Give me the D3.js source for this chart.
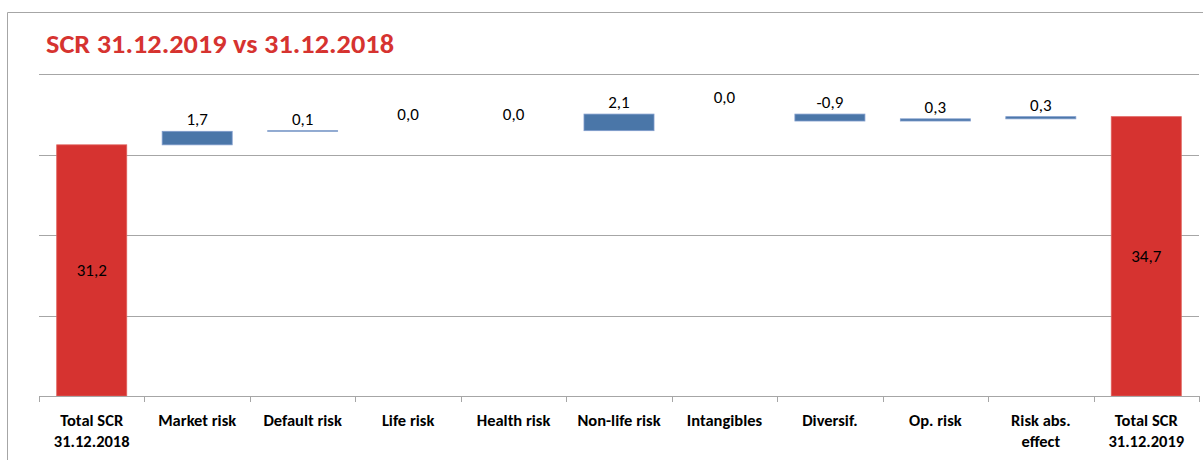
<!DOCTYPE html>
<meta charset="utf-8">
<head>
  <script src="https://d3js.org/d3.v7.min.js"></script>
  <style>
    body { margin: 0; background: #fff; font-family: Carlito, Lato, 'Liberation Sans', sans-serif; }
  </style>
</head>
<div id="my_dataviz"></div>
<script>
  // data
  var categories = ["Total SCR|31.12.2018", "Market risk", "Default risk", "Life risk", "Health risk",
    "Non-life risk", "Intangibles", "Diversif.", "Op. risk", "Risk abs.|effect", "Total SCR|31.12.2019"];
  var values = [31.2, 1.68, 0.08, 0, 0, 2.06, 0, -0.86, 0.27, 0.27, 34.7];
  var isTotal = [true, false, false, false, false, false, false, false, false, false, true];
  var valueLabels = ["31,2", "1,7", "0,1", "0,0", "0,0", "2,1", "0,0", "-0,9", "0,3", "0,3", "34,7"];
  var yTicks = [0, 10, 20, 30, 40];

  var W = 1203, H = 460;
  var margin = { top: 74, right: 4, bottom: 64, left: 39 },
    width = 1199 - margin.left,
    height = 396 - margin.top;

  var root = d3.select("#my_dataviz").append("svg")
    .attr("width", W).attr("height", H);

  // outer frame
  root.append("path")
    .attr("d", "M7.5," + H + "V12.5H" + W)
    .attr("fill", "none").attr("stroke", "#a6a6a6").attr("stroke-width", 1);

  var title = root.append("text")
    .attr("x", 46).attr("y", 53)
    .attr("fill", "#d63330")
    .style("font-size", "27px").style("font-weight", "bold")
    .text("SCR 31.12.2019 vs 31.12.2018");
  title.attr("textLength", 348).attr("lengthAdjust", "spacingAndGlyphs");

  var svg = root.append("g")
    .attr("transform", "translate(" + margin.left + "," + margin.top + ")");

  var x = d3.scaleBand().domain(categories).range([0, width]).paddingInner(0.336).paddingOuter(0.168);
  var y = d3.scaleLinear().domain([0, 40]).range([height, 0]);

  // gridlines
  svg.append("g").selectAll("line").data(yTicks.slice(1)).enter().append("line")
    .attr("x1", 0).attr("x2", width)
    .attr("y1", function (d) { return Math.round(y(d)) + 0.5; })
    .attr("y2", function (d) { return Math.round(y(d)) + 0.5; })
    .attr("stroke", "#a6a6a6");

  // waterfall extents
  var cum = 0, bars = [];
  values.forEach(function (v, i) {
    if (isTotal[i]) { bars.push({ c: categories[i], lo: 0, hi: v, v: v, total: true, label: valueLabels[i] }); cum = v; }
    else {
      var start = cum; cum += v;
      bars.push({ c: categories[i], lo: Math.min(start, cum), hi: Math.max(start, cum), v: v, total: false, label: valueLabels[i] });
    }
  });

  svg.append("g").selectAll("rect").data(bars).enter().append("rect")
    .attr("x", function (d) { return x(d.c); })
    .attr("width", x.bandwidth())
    .attr("y", function (d) { return y(d.hi); })
    .attr("height", function (d) { return Math.max(0, y(d.lo) - y(d.hi)); })
    .attr("fill", function (d) { return d.total ? "#d63330" : "#4a76a8"; })
    .attr("stroke", function (d) { return d.total ? "#e0605c" : "#7f9ccc"; })
    .attr("stroke-width", function (d) { return d.v === 0 ? 0 : 0.8; });

  // value labels
  svg.append("g").selectAll("text").data(bars).enter().append("text")
    .attr("x", function (d) { return x(d.c) + x.bandwidth() / 2; })
    .attr("y", function (d) {
      if (d.total) return (y(d.lo) + y(d.hi)) / 2;
      return y(d.hi) - (d.v === 0 ? 17 : 12);
    })
    .attr("dy", "0.35em")
    .attr("text-anchor", "middle")
    .style("font-size", "17px")
    .attr("fill", "#000")
    .text(function (d) { return d.label; });

  // x axis
  var xAxis = svg.append("g")
    .attr("transform", "translate(0," + height + ")");
  xAxis.append("line").attr("x1", 0).attr("x2", width).attr("y1", 0.5).attr("y2", 0.5).attr("stroke", "#a6a6a6");
  var step = x.step();
  xAxis.selectAll(".tk").data(d3.range(categories.length + 1)).enter().append("line")
    .attr("x1", function (i) { return Math.round(i * step) + 0.5; })
    .attr("x2", function (i) { return Math.round(i * step) + 0.5; })
    .attr("y1", 0).attr("y2", 6).attr("stroke", "#a6a6a6");

  var lab = xAxis.selectAll(".lab").data(categories).enter().append("text")
    .attr("text-anchor", "middle")
    .attr("transform", function (d) { return "translate(" + (x(d) + x.bandwidth() / 2) + ",0)"; })
    .style("font-size", "16.5px").style("font-weight", "bold").attr("fill", "#000");
  lab.selectAll("tspan").data(function (d) { return d.split("|"); }).enter().append("tspan")
    .attr("x", 0)
    .attr("y", function (d, i) { return 30 + i * 21; })
    .text(function (d) { return d; });
</script>
